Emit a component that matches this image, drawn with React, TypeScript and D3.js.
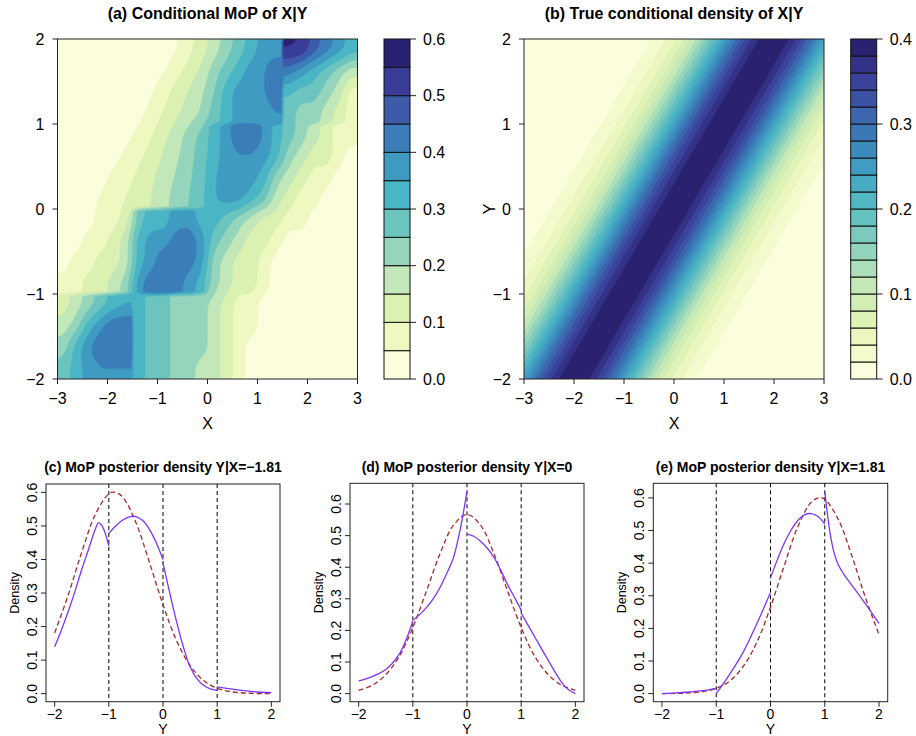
import React from "react";
import * as d3 from "d3";

const FONT = "'Liberation Sans', Arial, Helvetica, sans-serif";

// colour key anchors (light -> dark)
const PALETTE_ANCHORS = ["#FBFDDC", "#EEF8C0", "#DAF1B2", "#C2E7B8", "#95D5BC", "#6CC4BE", "#4AB5C4", "#3F9BC2", "#3A7DB8", "#3D5BA8", "#3A3D98", "#2A2270"];
const ramp = d3.piecewise(d3.interpolateRgb, PALETTE_ANCHORS);

const MAP_X_TICKS = [-3, -2, -1, 0, 1, 2, 3];
const MAP_Y_TICKS = [-2, -1, 0, 1, 2];

// ---- (a) Conditional MoP of X|Y : band index (0..11) per 0.25 x 0.25 cell, top row first
const MOP_LEVELS = [0, 0.05, 0.1, 0.15, 0.2, 0.25, 0.3, 0.35, 0.4, 0.45, 0.5, 0.55, 0.6];
const MOP_KEY_TICKS = [0, 0.1, 0.2, 0.3, 0.4, 0.5, 0.6];
const MOP_CELL = 0.25;
const MOP_BANDS = [
  [0, 0, 0, 0, 0, 0, 0, 0, 0, 0.4, 1.2, 2, 3, 4, 5, 6, 7, 7, 10.6, 10.4, 9, 8, 7, 6],
  [0, 0, 0, 0, 0, 0, 0, 0, 0.4, 1.1, 1.9, 2.7, 4, 5, 6, 7, 7.4, 8.4, 8, 7, 6, 5, 4, 3],
  [0, 0, 0, 0, 0, 0, 0, 0.4, 1.1, 1.9, 2.6, 3.3, 4.4, 6, 7, 7, 7.4, 8.4, 5.6, 5, 5, 4, 3, 1],
  [0, 0, 0, 0, 0, 0, 0.2, 0.8, 1.6, 2.3, 2.9, 3.6, 5, 6, 7, 7, 7, 7.4, 5, 4, 4, 3, 2, 1],
  [0, 0, 0, 0, 0, 0.2, 0.7, 1.4, 2.2, 3, 3.9, 4.8, 6, 7, 8.4, 8.4, 7.4, 6, 5, 4, 3, 2, 1, 1],
  [0, 0, 0, 0, 0.2, 0.7, 1.3, 1.9, 2.6, 3.3, 4.1, 5, 6, 7, 7.4, 7.4, 7, 6, 4, 3, 2, 2, 1, 0],
  [0, 0, 0, 0.2, 0.7, 1.2, 1.7, 2.3, 3, 3.6, 4.3, 5.1, 6.4, 7, 7, 7, 6, 4, 3, 2, 1, 1, 0, 0],
  [0, 0, 0.2, 0.6, 1.1, 1.5, 2, 2.5, 3.2, 3.9, 4.5, 5.2, 6.4, 7, 7, 6, 5, 3, 2, 1, 1, 0, 0, 0],
  [0, 0, 0, 1, 1, 2, 5, 6, 6, 7, 7, 6, 6, 5, 4, 3, 2, 2, 1, 1, 0, 0, 0, 0],
  [0, 0, 1, 1, 2, 3, 6, 7, 7, 8, 8.4, 7, 5, 4, 3, 2, 2, 1, 0, 0, 0, 0, 0, 0],
  [0, 1, 1, 2, 2, 3, 6, 7, 8.4, 8.4, 8, 7, 4, 3, 2, 2, 1, 0, 0, 0, 0, 0, 0, 0],
  [1, 1, 2, 2, 3, 4, 7, 8.4, 8.4, 8, 7, 6, 4, 3, 2, 2, 1, 0, 0, 0, 0, 0, 0, 0],
  [2, 3, 4, 5, 6, 6.4, 6, 5, 5, 4, 4, 4, 3, 2, 1, 1, 0, 0, 0, 0, 0, 0, 0, 0],
  [3, 4, 6, 7.4, 8.4, 8.4, 6, 5, 5, 4, 4, 4, 3, 2, 1, 1, 0, 0, 0, 0, 0, 0, 0, 0],
  [4, 6, 7.4, 8.4, 8.4, 8.4, 6, 5, 5, 4, 4, 4, 3, 2, 1, 0, 0, 0, 0, 0, 0, 0, 0, 0],
  [5, 6, 7, 7.4, 7.4, 7.4, 6, 5, 5, 4, 4, 3, 3, 2, 1, 0, 0, 0, 0, 0, 0, 0, 0, 0],
];
// visible jumps between polynomial pieces (cell indices): vertical cut right of `col`, horizontal cut below `row`
const MOP_V_CUTS = [{ col: 17, from: 0, to: 3 }, { col: 5, from: 12, to: 15 }];
const MOP_H_CUTS = [{ row: 3, from: 12, to: 23 }, { row: 11, from: 0, to: 11 }, { row: 7, from: 6, to: 11 }];

// ---- (b) True conditional density of X|Y : density vs distance |X - Y|
const TRUE_LEVELS = [0, 0.02, 0.04, 0.06, 0.08, 0.1, 0.12, 0.14, 0.16, 0.18, 0.2, 0.22, 0.24, 0.26, 0.28, 0.3, 0.32, 0.34, 0.36, 0.38, 0.4];
const TRUE_KEY_TICKS = [0, 0.1, 0.2, 0.3, 0.4];
const TRUE_OFFSET = [0, 0.25, 0.5, 0.75, 1, 1.25, 1.5, 1.75, 2, 2.25, 2.5, 2.75, 3, 3.25, 3.5, 3.75, 4, 5];
const TRUE_DENSITY = [0.3989, 0.3867, 0.3521, 0.3011, 0.242, 0.1826, 0.1295, 0.0863, 0.054, 0.0317, 0.0175, 0.0091, 0.0044, 0.002, 0.0009, 0.0004, 0.0001, 0];

// ---- (c)-(e) posterior densities of Y|X : [Y, density]
const DENS_Y_TICKS = [0, 0.1, 0.2, 0.3, 0.4, 0.5, 0.6];
const DENS_X_TICKS = [-2, -1, 0, 1, 2];
const BREAKS = [-1, 0, 1];

const C_MOP = [
  [[-2, 0.14], [-1.875, 0.19], [-1.75, 0.245], [-1.625, 0.305], [-1.5, 0.37], [-1.375, 0.43], [-1.25, 0.49], [-1.19, 0.51], [-1.125, 0.5], [-1.05, 0.47], [-1, 0.44]],
  [[-1, 0.478], [-0.875, 0.5], [-0.75, 0.517], [-0.625, 0.527], [-0.5, 0.528], [-0.375, 0.516], [-0.25, 0.49], [-0.125, 0.45], [0, 0.4]],
  [[0, 0.39], [0.125, 0.3], [0.25, 0.215], [0.375, 0.14], [0.5, 0.08], [0.625, 0.045], [0.75, 0.025], [0.875, 0.014], [1, 0.01]],
  [[1, 0.02], [1.25, 0.014], [1.5, 0.009], [1.75, 0.005], [2, 0.003]],
];
const C_TRUE = [[-2, 0.181], [-1.75, 0.294], [-1.5, 0.422], [-1.25, 0.534], [-1, 0.596], [-0.905, 0.601], [-0.75, 0.587], [-0.5, 0.51], [-0.25, 0.391], [0, 0.265], [0.25, 0.158], [0.5, 0.084], [0.75, 0.039], [1, 0.016], [1.25, 0.006], [1.5, 0.002], [1.75, 0.0005], [2, 0.0001]];

const D_MOP = [
  [[-2, 0.04], [-1.75, 0.054], [-1.5, 0.076], [-1.25, 0.125], [-1.125, 0.17], [-1, 0.23]],
  [[-1, 0.232], [-0.875, 0.25], [-0.75, 0.272], [-0.625, 0.3], [-0.5, 0.335], [-0.375, 0.38], [-0.25, 0.43], [-0.125, 0.52], [0, 0.64]],
  [[0, 0.505], [0.125, 0.498], [0.25, 0.482], [0.375, 0.46], [0.5, 0.43], [0.625, 0.39], [0.75, 0.345], [0.875, 0.305], [1, 0.265]],
  [[1, 0.255], [1.25, 0.18], [1.5, 0.105], [1.75, 0.035], [1.875, 0.012], [2, 0.0]],
];
const D_TRUE = [[-2, 0.0104], [-1.75, 0.0264], [-1.5, 0.06], [-1.25, 0.118], [-1, 0.209], [-0.75, 0.324], [-0.5, 0.442], [-0.25, 0.533], [0, 0.567], [0.25, 0.533], [0.5, 0.442], [0.75, 0.324], [1, 0.209], [1.25, 0.118], [1.5, 0.06], [1.75, 0.0264], [2, 0.0104]];

const E_MOP = [
  [[-2, 0.0], [-1.75, 0.002], [-1.5, 0.005], [-1.25, 0.009], [-1, 0.016]],
  [[-1, 0.0], [-0.75, 0.06], [-0.5, 0.128], [-0.25, 0.215], [0, 0.31]],
  [[0, 0.355], [0.125, 0.41], [0.25, 0.46], [0.375, 0.5], [0.5, 0.53], [0.625, 0.548], [0.75, 0.552], [0.875, 0.543], [1, 0.52]],
  [[1, 0.62], [1.05, 0.55], [1.1, 0.49], [1.175, 0.43], [1.25, 0.395], [1.375, 0.36], [1.5, 0.332], [1.75, 0.275], [2, 0.215]],
];
const E_TRUE = [[-2, 0.0001], [-1.75, 0.0005], [-1.5, 0.002], [-1.25, 0.006], [-1, 0.016], [-0.75, 0.039], [-0.5, 0.084], [-0.25, 0.158], [0, 0.265], [0.25, 0.391], [0.5, 0.51], [0.75, 0.587], [0.905, 0.601], [1, 0.596], [1.25, 0.534], [1.5, 0.422], [1.75, 0.294], [2, 0.181]];

const fmtTick = d3.format("");
const fmtKey = d3.format(".1f");

function vcut(c: number, r: number) {
  return MOP_V_CUTS.some((k) => k.col === c && r >= k.from && r <= k.to);
}
function hcut(r: number, c: number) {
  return MOP_H_CUTS.some((k) => k.row === r && c >= k.from && c <= k.to);
}
function separated(bi: number, bj: number, ci: number, cj: number) {
  if (ci !== bi && vcut(Math.min(ci, bi), bj)) return true;
  if (cj !== bj && hcut(Math.min(cj, bj), bi)) return true;
  return false;
}

// resample the coarse cell grid onto a finer one, keeping the jumps between pieces
function refine(rows: number[][], f: number) {
  const ny = rows.length;
  const nx = rows[0].length;
  const NX = nx * f;
  const NY = ny * f;
  const raw = new Array(NX * NY);
  for (let j = 0; j < NY; j++) {
    const bj = Math.floor(j / f);
    const cy = Math.min(Math.max((j + 0.5) / f - 0.5, 0), ny - 1);
    const j0 = Math.floor(cy);
    const j1 = Math.min(j0 + 1, ny - 1);
    const ty = cy - j0;
    for (let i = 0; i < NX; i++) {
      const bi = Math.floor(i / f);
      const cx = Math.min(Math.max((i + 0.5) / f - 0.5, 0), nx - 1);
      const i0 = Math.floor(cx);
      const i1 = Math.min(i0 + 1, nx - 1);
      const tx = cx - i0;
      const at = (ii: number, jj: number) => {
        let a = ii;
        let b = jj;
        if (a !== bi && vcut(Math.min(a, bi), bj)) a = bi;
        if (b !== bj && hcut(Math.min(b, bj), bi)) b = bj;
        return rows[b][a];
      };
      const top = at(i0, j0) * (1 - tx) + at(i1, j0) * tx;
      const bot = at(i0, j1) * (1 - tx) + at(i1, j1) * tx;
      raw[j * NX + i] = top * (1 - ty) + bot * ty;
    }
  }
  const out = new Array(NX * NY);
  for (let j = 0; j < NY; j++) {
    const bj = Math.floor(j / f);
    for (let i = 0; i < NX; i++) {
      const bi = Math.floor(i / f);
      let s = 0;
      let w = 0;
      for (let v = -1; v <= 1; v++) {
        for (let u = -1; u <= 1; u++) {
          const ii = i + u;
          const jj = j + v;
          if (ii < 0 || jj < 0 || ii >= NX || jj >= NY) continue;
          if (separated(bi, bj, Math.floor(ii / f), Math.floor(jj / f))) continue;
          s += raw[jj * NX + ii];
          w += 1;
        }
      }
      out[j * NX + i] = s / w;
    }
  }
  return { values: out, nx: NX, ny: NY };
}

function ContourMap(p: any) {
  const x = d3.scaleLinear().domain([-3, 3]).range([p.left, p.left + p.width]);
  const y = d3.scaleLinear().domain([-2, 2]).range([p.top + p.height, p.top]);
  const nb = p.levels.length - 1;
  const colors = d3.range(nb).map((k) => ramp(k / (nb - 1)));
  const inner = p.levels.slice(1, -1);
  const contours = d3.contours().size([p.nx, p.ny]).thresholds(inner)(p.values);
  const { gx0, gy0, dx, dy } = p;
  const proj = d3.geoTransform({
    point: function (cx: number, cy: number) {
      (this as any).stream.point(x(gx0 + (cx - 0.5) * dx), y(gy0 + (cy - 0.5) * dy));
    },
  });
  const path = d3.geoPath(proj as any);
  const key = d3.scaleLinear().domain([p.levels[0], p.levels[nb]]).range([p.top + p.height, p.top]);
  const bottom = p.top + p.height;
  const barRight = p.barLeft + p.barWidth;
  return (
    <g>
      <defs>
        <clipPath id={p.clipId}>
          <rect x={p.left} y={p.top} width={p.width} height={p.height} />
        </clipPath>
      </defs>
      <g clipPath={`url(#${p.clipId})`}>
        <rect x={p.left} y={p.top} width={p.width} height={p.height} fill={colors[0]} />
        {contours.map((c: any, i: number) => (
          <path key={i} d={path(c as any) || ""} fill={colors[i + 1]} stroke={colors[i + 1]} strokeWidth={0.3} />
        ))}
      </g>
      <rect x={p.left} y={p.top} width={p.width} height={p.height} fill="none" stroke="#222" strokeWidth={1} />
      <text x={p.left + p.width / 2} y={18.5} textAnchor="middle" fontWeight="bold" fontSize={16}>{p.title}</text>
      {MAP_X_TICKS.map((t) => (
        <g key={"x" + t}>
          <line x1={x(t)} x2={x(t)} y1={bottom} y2={bottom + 5} stroke="#222" />
          <text x={x(t)} y={bottom + 24.5} textAnchor="middle" fontSize={16}>{fmtTick(t)}</text>
        </g>
      ))}
      {MAP_Y_TICKS.map((t) => (
        <g key={"y" + t}>
          <line x1={p.left - 5} x2={p.left} y1={y(t)} y2={y(t)} stroke="#222" />
          <text x={p.left - 13} y={y(t) + 5.8} textAnchor="end" fontSize={16}>{fmtTick(t)}</text>
        </g>
      ))}
      <text x={p.left + p.width / 2} y={428.5} textAnchor="middle" fontSize={16}>X</text>
      {p.showYLabel ? (
        <text transform={`translate(${p.left - 35},${p.top + p.height / 2}) rotate(-90)`} textAnchor="middle" dy="0.35em" fontSize={16}>Y</text>
      ) : null}
      {d3.range(nb).map((k) => (
        <rect key={"k" + k} x={p.barLeft} y={key(p.levels[k + 1])} width={p.barWidth} height={key(p.levels[k]) - key(p.levels[k + 1])} fill={colors[k]} stroke="#111" strokeWidth={1} />
      ))}
      {p.keyTicks.map((t: number) => (
        <g key={"kt" + t}>
          <line x1={barRight} x2={barRight + 6} y1={key(t)} y2={key(t)} stroke="#222" />
          <text x={barRight + 13} y={key(t) + 5.8} fontSize={16}>{fmtKey(t)}</text>
        </g>
      ))}
    </g>
  );
}

function DensityPanel(p: any) {
  const vals = [...p.mop.flat().map((d: number[]) => d[1]), ...p.truth.map((d: number[]) => d[1])];
  const lo = d3.min(vals) as number;
  const hi = d3.max(vals) as number;
  const pad = (hi - lo) * 0.04;
  const x = d3.scaleLinear().domain([-2.16, 2.16]).range([p.left, p.right]);
  const y = d3.scaleLinear().domain([lo - pad, hi + pad]).range([p.bottom, p.top]);
  const line = d3
    .line<number[]>()
    .x((d) => x(d[0]))
    .y((d) => y(d[1]))
    .curve(d3.curveCatmullRom.alpha(0.5));
  const cx = (p.left + p.right) / 2;
  return (
    <g>
      {BREAKS.map((b) => (
        <line key={"b" + b} x1={x(b)} x2={x(b)} y1={p.top} y2={p.bottom} stroke="#000" strokeWidth={1} strokeDasharray="4,3" />
      ))}
      <path d={line(p.truth) || ""} fill="none" stroke="#A52A2A" strokeWidth={1.3} strokeDasharray="5,3" />
      {p.mop.map((seg: number[][], i: number) => (
        <path key={"s" + i} d={line(seg) || ""} fill="none" stroke="#7B36F5" strokeWidth={1.3} />
      ))}
      <rect x={p.left} y={p.top} width={p.right - p.left} height={p.bottom - p.top} fill="none" stroke="#222" strokeWidth={1} />
      <text x={cx} y={471.5} textAnchor="middle" fontWeight="bold" fontSize={14}>{p.title}</text>
      {DENS_X_TICKS.map((t) => (
        <g key={"x" + t}>
          <line x1={x(t)} x2={x(t)} y1={p.bottom} y2={p.bottom + 5} stroke="#222" />
          <text x={x(t)} y={718.5} textAnchor="middle" fontSize={14}>{fmtTick(t)}</text>
        </g>
      ))}
      {DENS_Y_TICKS.map((t) => (
        <g key={"y" + t}>
          <line x1={p.left - 5} x2={p.left} y1={y(t)} y2={y(t)} stroke="#222" />
          <text transform={`translate(${p.left - 9.5},${y(t)}) rotate(-90)`} textAnchor="middle" fontSize={14}>{fmtKey(t)}</text>
        </g>
      ))}
      <text x={cx} y={734} textAnchor="middle" fontSize={14}>Y</text>
      <text transform={`translate(${p.left - 27},${(p.top + p.bottom) / 2}) rotate(-90)`} textAnchor="middle" fontSize={12.5}>Density</text>
    </g>
  );
}

export default function App() {
  const F = 4;
  const bandRows = MOP_BANDS.map((row) => row.map((b) => (b + 0.5) * 0.05));
  const mop = refine(bandRows, F);
  const mopStep = MOP_CELL / F;

  const trueX = d3.range(121).map((i) => -3 + i * 0.05);
  const trueY = d3.range(81).map((j) => 2 - j * 0.05);
  const prof = d3.scaleLinear().domain(TRUE_OFFSET).range(TRUE_DENSITY).clamp(true);
  const trueValues: number[] = [];
  trueY.forEach((yy) => trueX.forEach((xx) => trueValues.push(prof(Math.abs(xx - yy)))));

  return (
    <svg width={916} height={736} style={{ position: "absolute", left: 0, top: 0, background: "#fff" }} fontFamily={FONT}>
      <rect x={0} y={0} width={916} height={736} fill="#fff" />
      <ContourMap
        left={57.5} top={39} width={300} height={340} barLeft={384} barWidth={26}
        title="(a) Conditional MoP of X|Y" showYLabel={false}
        values={mop.values} nx={mop.nx} ny={mop.ny}
        gx0={-3 + mopStep / 2} dx={mopStep} gy0={2 - mopStep / 2} dy={-mopStep}
        levels={MOP_LEVELS} keyTicks={MOP_KEY_TICKS} clipId="clipA"
      />
      <ContourMap
        left={524} top={39} width={300} height={340} barLeft={850.7} barWidth={26}
        title="(b) True conditional density of X|Y" showYLabel={true}
        values={trueValues} nx={trueX.length} ny={trueY.length}
        gx0={-3} dx={0.05} gy0={2} dy={-0.05}
        levels={TRUE_LEVELS} keyTicks={TRUE_KEY_TICKS} clipId="clipB"
      />
      <DensityPanel left={46} right={280} top={484} bottom={701.7} title="(c) MoP posterior density Y|X=−1.81" mop={C_MOP} truth={C_TRUE} />
      <DensityPanel left={350} right={584} top={483.3} bottom={701.7} title="(d) MoP posterior density Y|X=0" mop={D_MOP} truth={D_TRUE} />
      <DensityPanel left={653.3} right={887.7} top={483.3} bottom={701.7} title="(e) MoP posterior density Y|X=1.81" mop={E_MOP} truth={E_TRUE} />
    </svg>
  );
}
